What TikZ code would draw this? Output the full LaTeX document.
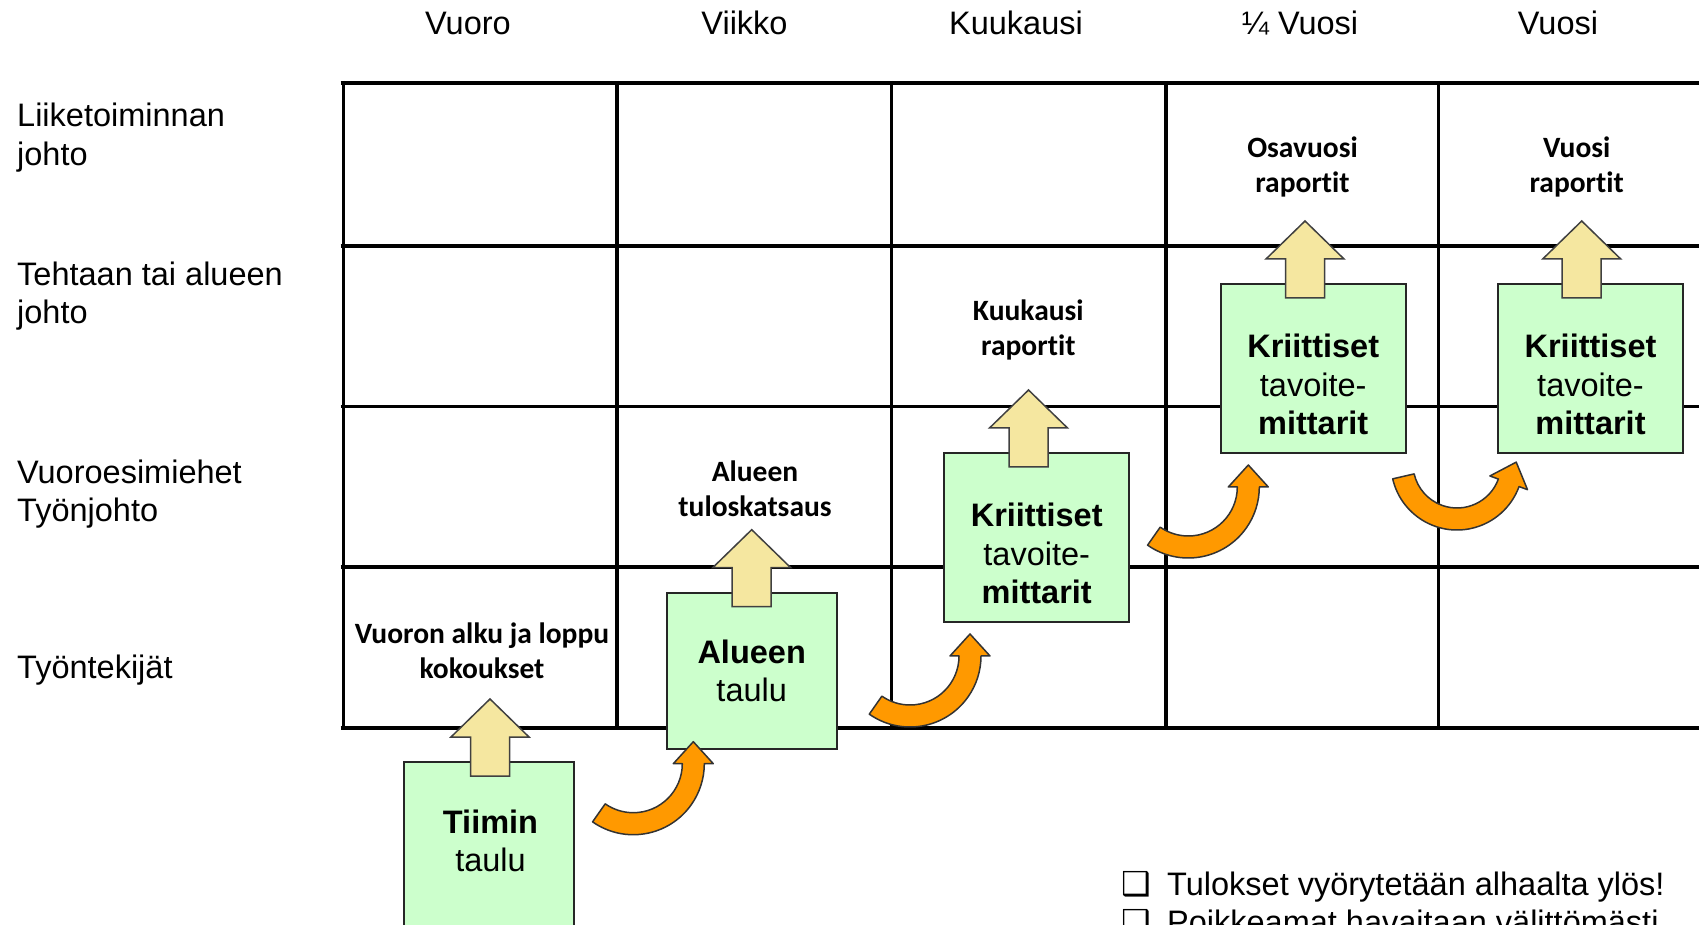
\documentclass[tikz,border=0pt]{standalone}
\usepackage{fontspec}
\setmainfont{Liberation Sans}
\newfontfamily\tagfamily[Ligatures=NoCommon]{Carlito}
\newfontfamily\checkfamily{DejaVu Sans}
\usetikzlibrary{calc}

\definecolor{boxgreen}{RGB}{204,255,204}
\definecolor{upbeige}{RGB}{245,231,160}
\definecolor{bendorange}{RGB}{255,153,0}

\newcommand\mainsize{\fontsize{32.5}{38.5}\selectfont}
\newcommand\tagsize{\tagfamily\bfseries\fontsize{29.5}{35}\selectfont}
\newcommand\checkmarkbox{\makebox[45.5pt][l]{\checkfamily\fontsize{33}{33}\selectfont ❑}}

% curved block arrow: centre, mid radius, start angle, angle where the head begins
\newcommand\bendarrow[4]{%
  \pgfmathsetmacro\bendRo{#2+11}%
  \pgfmathsetmacro\bendRi{#2-11}%
  \pgfmathsetmacro\bendHo{#2+20}%
  \pgfmathsetmacro\bendHi{#2-20}%
  \filldraw[bendfill]
    ($(#1)+(#3:\bendRo)$) arc[start angle=#3, end angle=#4, radius=\bendRo]
    -- ($(#1)+(#4:\bendHo)$)
    -- ($(#1)+(#4:#2)+(#4+90:22)$)
    -- ($(#1)+(#4:\bendHi)$)
    -- ($(#1)+(#4:\bendRi)$)
    arc[start angle=#4, end angle=#3, radius=\bendRi] -- cycle;
}

\tikzset{
  gridline/.style={line width=3.8pt, black},
  greenbox/.style={draw=black!85, line width=2pt, fill=boxgreen, inner sep=0pt},
  kbox/.style={greenbox, minimum width=185pt, minimum height=169pt},
  boxtext/.style={font=\mainsize, align=center, inner sep=0pt},
  hdr/.style={font=\mainsize, anchor=base, inner sep=0pt},
  rowlabel/.style={font=\mainsize, align=left, anchor=north west, inner sep=0pt},
  tag/.style={font=\tagsize, align=center, anchor=north, inner sep=0pt},
  note/.style={font=\mainsize, anchor=base west, inner sep=0pt},
  upfill/.style={draw=black!75, line width=1.5pt, fill=upbeige, line join=miter},
  bendfill/.style={draw=black!80, line width=1.5pt, fill=bendorange, line join=round},
  uparrow/.pic={
    \filldraw[upfill] (-19.5,-15) -- (-19.5,24) -- (-39,24) -- (0,62)
      -- (39,24) -- (19.5,24) -- (19.5,-15) -- cycle;
  }
}

\begin{document}
\begin{tikzpicture}[x=1pt, y=1pt]
\useasboundingbox (0,0) rectangle (1699,924);

% time grid
\foreach \y in {841.3,678.3,517.5,357,195.7}
  \draw[gridline] (340.5,\y) -- (1702,\y);
\foreach \x in {343.5,617,891.5,1166,1438.5}
  \draw[gridline] (\x,843) -- (\x,194);

% column headers
\node[hdr] (hVuoro)    at (468,889)    {Vuoro};
\node[hdr] (hViikko)   at (744.5,889)  {Viikko};
\node[hdr] (hKuukausi) at (1016,889)   {Kuukausi};
\node[hdr] (hQuarter)  at (1300,889)   {¼ Vuosi};
\node[hdr] (hVuosi)    at (1558,889)   {Vuosi};

% row labels
\node[rowlabel] (rLiike)  at (17,824.3) {\strut Liiketoiminnan\\\strut johto};
\node[rowlabel] (rTehdas) at (17,666)   {\strut Tehtaan tai alueen\\\strut johto};
\node[rowlabel] (rVuoro)  at (17,467.7) {\strut Vuoroesimiehet\\\strut Työnjohto};
\node[rowlabel] (rTyo)    at (17,272.7) {\strut Työntekijät};

% boards
\node[greenbox, minimum width=170pt, minimum height=164pt]   (tiimin) at (489,80)     {};
\node[greenbox, minimum width=170pt, minimum height=156.6pt] (alueen) at (751.7,253)  {};
\node[kbox] (kk) at (1036.3,386.5) {};
\node[kbox] (kq) at (1313.2,555.5) {};
\node[kbox] (kv) at (1590.5,555.5) {};

% reporting arrows
\pic at ($(tiimin.north)+(1,0)$)    {uparrow};
\pic at ($(alueen.north)+(0,0)$)    {uparrow};
\pic at ($(kk.north)+(-7.8,0)$)     {uparrow};
\pic at ($(kq.north)+(-8.2,0)$)     {uparrow};
\pic at ($(kv.north)+(-8.8,0)$)     {uparrow};

% hand-over arrows between boards
\bendarrow{633.3,160.3}{60}{235}{360}
\bendarrow{910,268}{60}{235}{360}
\bendarrow{1188.3,437}{60}{235}{360}
\bendarrow{1457,460}{55}{193}{340}

% board texts
\node[boxtext] (tiiminT) at (490.5,79.2)  {\strut\textbf{Tiimin}\\\strut taulu};
\node[boxtext] (alueenT) at (751.7,249.2) {\strut\textbf{Alueen}\\\strut taulu};
\node[boxtext] (kkT) at (1036.7,366.5) {\strut\textbf{Kriittiset}\\\strut tavoite-\\\strut\textbf{mittarit}};
\node[boxtext] (kqT) at (1313.2,535.2) {\strut\textbf{Kriittiset}\\\strut tavoite-\\\strut\textbf{mittarit}};
\node[boxtext] (kvT) at (1590.5,535.2) {\strut\textbf{Kriittiset}\\\strut tavoite-\\\strut\textbf{mittarit}};

% report labels
\node[tag] (tVuoro)  at (482,305.2)    {\strut Vuoron alku ja loppu\\\strut kokoukset};
\node[tag] (tAlue)   at (755,466.8)    {\strut Alueen\\\strut tuloskatsaus};
\node[tag] (tKuuk)   at (1028.3,628.5) {\strut Kuukausi\\\strut raportit};
\node[tag] (tOsa)    at (1302.5,791.5) {\strut Osavuosi\\\strut raportit};
\node[tag] (tVuosi)  at (1576.7,791.5) {\strut Vuosi\\\strut raportit};

% notes
\node[note] (n1) at (1121.5,29)   {\checkmarkbox Tulokset vyörytetään alhaalta ylös!};
\node[note] (n2) at (1121.5,-9.5) {\checkmarkbox Poikkeamat havaitaan välittömästi};
\end{tikzpicture}
\end{document}
